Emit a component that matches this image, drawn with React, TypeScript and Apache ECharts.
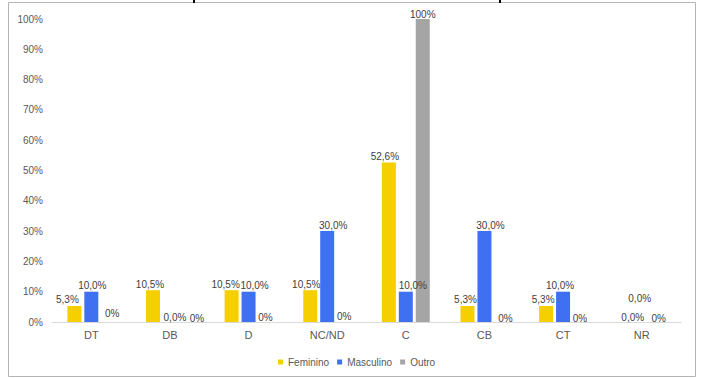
import React, { useEffect, useRef } from "react";
import * as echarts from "echarts";

const categories = ["DT", "DB", "D", "NC/ND", "C", "CB", "CT", "NR"];
const feminino = [5.3, 10.5, 10.5, 10.5, 52.6, 5.3, 5.3, 0.0];
const masculino = [10.0, 0.0, 10.0, 30.0, 10.0, 30.0, 10.0, 0.0];
const outro = [0, 0, 0, 0, 100, 0, 0, 0];
const seriesNames = ["Feminino", "Masculino", "Outro"];
const yTicks = [0, 10, 20, 30, 40, 50, 60, 70, 80, 90, 100];

const FONT = "'Liberation Sans', Arial, sans-serif";

// label nudges (pixels) mimicking the reference's label placement
const femOff = [[-7, 0], [-3, 0], [-6, 0], [-4, 0], [-4, 0], [-2, 0], [-3, 0], [8, 1]];
const masOff = [[1, 0], [5, 1], [6, 0], [6, 0], [7, 0], [6, 0], [-3, 0], [-2, -18]];
const outOff = [[4, -4], [10, 1], [0, 0], [0, -1], [0, 0], [4, 1], [0, 1], [0, 1]];

const fmt1 = (v: number) => v.toFixed(1).replace(".", ",") + "%";
const fmt0 = (v: number) => Math.round(v) + "%";

function build(values: number[], offs: number[][], fmt: (v: number) => string, dist: number) {
  return values.map((v, i) => ({
    value: v,
    label: {
      show: true,
      position: "top",
      distance: dist,
      offset: offs[i],
      formatter: () => fmt(v),
      color: "#404040",
      fontSize: 10,
      fontFamily: FONT,
    },
  }));
}

export default function App() {
  const ref = useRef<HTMLDivElement>(null);
  useEffect(() => {
    if (!ref.current) return;
    const chart = echarts.init(ref.current, null, { renderer: "svg" });
    chart.setOption({
      animation: false,
      backgroundColor: "#ffffff",
      textStyle: { fontFamily: FONT },
      graphic: [
        {
          type: "rect",
          shape: { x: 8.5, y: 2.5, width: 687, height: 374 },
          style: { fill: "none", stroke: "#B4B4B4", lineWidth: 1 },
          silent: true,
        },
        {
          type: "line",
          shape: { x1: 194, y1: 0, x2: 194, y2: 3 },
          style: { stroke: "#000", lineWidth: 2 },
        },
        {
          type: "line",
          shape: { x1: 500, y1: 0, x2: 500, y2: 3 },
          style: { stroke: "#000", lineWidth: 2 },
        },
      ],
      legend: {
        data: seriesNames,
        left: 273,
        top: 352,
        icon: "rect",
        itemWidth: 5,
        itemHeight: 5,
        itemGap: 8,
        textStyle: { color: "#595959", fontSize: 10, fontFamily: FONT },
      },
      grid: { left: 52, right: 20, top: 19, bottom: 56 },
      xAxis: {
        type: "category",
        data: categories,
        axisLine: { show: true, lineStyle: { color: "#D9D9D9", width: 1 } },
        axisTick: { show: false },
        axisLabel: { color: "#595959", fontSize: 11, margin: 7, fontFamily: FONT },
      },
      yAxis: {
        type: "value",
        min: yTicks[0],
        max: yTicks[yTicks.length - 1],
        interval: yTicks[1] - yTicks[0],
        axisLine: { show: false },
        axisTick: { show: false },
        splitLine: { show: false },
        axisLabel: {
          color: "#595959",
          fontSize: 10,
          margin: 9,
          fontFamily: FONT,
          formatter: (v: number) => v + "%",
        },
      },
      series: [
        {
          name: seriesNames[0],
          type: "bar",
          data: build(feminino, femOff, fmt1, 1),
          itemStyle: { color: "#F5CF00" },
          barWidth: 14,
          barGap: "21%",
        },
        {
          name: seriesNames[1],
          type: "bar",
          data: build(masculino, masOff, fmt1, 1),
          itemStyle: { color: "#3F70F2" },
          barWidth: 14,
          barGap: "21%",
        },
        {
          name: seriesNames[2],
          type: "bar",
          data: build(outro, outOff, fmt0, 0),
          itemStyle: { color: "#A5A5A5" },
          barWidth: 14,
          barGap: "21%",
        },
      ],
    });
    return () => chart.dispose();
  }, []);
  return (
    <div
      ref={ref}
      style={{ position: "fixed", left: 0, top: 0, width: 701, height: 378 }}
    />
  );
}
